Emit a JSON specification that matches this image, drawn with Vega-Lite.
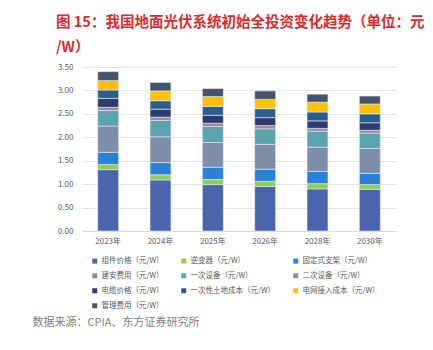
{
  "$schema": "https://vega.github.io/schema/vega-lite/v6.json",
  "autosize": "none",
  "width": 314,
  "height": 164,
  "padding": {"left": 82, "top": 67, "right": 37, "bottom": 119},
  "background": "white",
  "config": {
    "font": "Noto Sans CJK SC",
    "view": {"stroke": null}
  },
  "title": {
    "text": ["图 15：我国地面光伏系统初始全投资变化趋势（单位：元", "/W）"],
    "anchor": "start",
    "frame": "group",
    "orient": "top",
    "font": "Noto Sans CJK SC",
    "fontSize": 14.5,
    "fontWeight": "bold",
    "color": "#e02a2a",
    "lineHeight": 25,
    "baseline": "top",
    "offset": 0,
    "dx": -26,
    "dy": -8
  },
  "data": {
    "values": [
      {"year": "2023年", "item": "组件价格（元/W）", "o": 1, "v": 1.31},
      {"year": "2023年", "item": "逆变器（元/W）", "o": 2, "v": 0.11},
      {"year": "2023年", "item": "固定式支架（元/W）", "o": 3, "v": 0.26},
      {"year": "2023年", "item": "建安费用（元/W）", "o": 4, "v": 0.56},
      {"year": "2023年", "item": "一次设备（元/W）", "o": 5, "v": 0.33},
      {"year": "2023年", "item": "二次设备（元/W）", "o": 6, "v": 0.07},
      {"year": "2023年", "item": "电缆价格（元/W）", "o": 7, "v": 0.19},
      {"year": "2023年", "item": "一次性土地成本（元/W）", "o": 8, "v": 0.18},
      {"year": "2023年", "item": "电网接入成本（元/W）", "o": 9, "v": 0.2},
      {"year": "2023年", "item": "管理费用（元/W）", "o": 10, "v": 0.19},
      {"year": "2024年", "item": "组件价格（元/W）", "o": 1, "v": 1.09},
      {"year": "2024年", "item": "逆变器（元/W）", "o": 2, "v": 0.11},
      {"year": "2024年", "item": "固定式支架（元/W）", "o": 3, "v": 0.26},
      {"year": "2024年", "item": "建安费用（元/W）", "o": 4, "v": 0.55},
      {"year": "2024年", "item": "一次设备（元/W）", "o": 5, "v": 0.35},
      {"year": "2024年", "item": "二次设备（元/W）", "o": 6, "v": 0.07},
      {"year": "2024年", "item": "电缆价格（元/W）", "o": 7, "v": 0.17},
      {"year": "2024年", "item": "一次性土地成本（元/W）", "o": 8, "v": 0.18},
      {"year": "2024年", "item": "电网接入成本（元/W）", "o": 9, "v": 0.21},
      {"year": "2024年", "item": "管理费用（元/W）", "o": 10, "v": 0.18},
      {"year": "2025年", "item": "组件价格（元/W）", "o": 1, "v": 0.99},
      {"year": "2025年", "item": "逆变器（元/W）", "o": 2, "v": 0.11},
      {"year": "2025年", "item": "固定式支架（元/W）", "o": 3, "v": 0.26},
      {"year": "2025年", "item": "建安费用（元/W）", "o": 4, "v": 0.53},
      {"year": "2025年", "item": "一次设备（元/W）", "o": 5, "v": 0.34},
      {"year": "2025年", "item": "二次设备（元/W）", "o": 6, "v": 0.07},
      {"year": "2025年", "item": "电缆价格（元/W）", "o": 7, "v": 0.17},
      {"year": "2025年", "item": "一次性土地成本（元/W）", "o": 8, "v": 0.19},
      {"year": "2025年", "item": "电网接入成本（元/W）", "o": 9, "v": 0.21},
      {"year": "2025年", "item": "管理费用（元/W）", "o": 10, "v": 0.17},
      {"year": "2026年", "item": "组件价格（元/W）", "o": 1, "v": 0.95},
      {"year": "2026年", "item": "逆变器（元/W）", "o": 2, "v": 0.11},
      {"year": "2026年", "item": "固定式支架（元/W）", "o": 3, "v": 0.26},
      {"year": "2026年", "item": "建安费用（元/W）", "o": 4, "v": 0.53},
      {"year": "2026年", "item": "一次设备（元/W）", "o": 5, "v": 0.33},
      {"year": "2026年", "item": "二次设备（元/W）", "o": 6, "v": 0.07},
      {"year": "2026年", "item": "电缆价格（元/W）", "o": 7, "v": 0.17},
      {"year": "2026年", "item": "一次性土地成本（元/W）", "o": 8, "v": 0.19},
      {"year": "2026年", "item": "电网接入成本（元/W）", "o": 9, "v": 0.2},
      {"year": "2026年", "item": "管理费用（元/W）", "o": 10, "v": 0.18},
      {"year": "2028年", "item": "组件价格（元/W）", "o": 1, "v": 0.9},
      {"year": "2028年", "item": "逆变器（元/W）", "o": 2, "v": 0.11},
      {"year": "2028年", "item": "固定式支架（元/W）", "o": 3, "v": 0.26},
      {"year": "2028年", "item": "建安费用（元/W）", "o": 4, "v": 0.52},
      {"year": "2028年", "item": "一次设备（元/W）", "o": 5, "v": 0.34},
      {"year": "2028年", "item": "二次设备（元/W）", "o": 6, "v": 0.06},
      {"year": "2028年", "item": "电缆价格（元/W）", "o": 7, "v": 0.16},
      {"year": "2028年", "item": "一次性土地成本（元/W）", "o": 8, "v": 0.19},
      {"year": "2028年", "item": "电网接入成本（元/W）", "o": 9, "v": 0.21},
      {"year": "2028年", "item": "管理费用（元/W）", "o": 10, "v": 0.17},
      {"year": "2030年", "item": "组件价格（元/W）", "o": 1, "v": 0.89},
      {"year": "2030年", "item": "逆变器（元/W）", "o": 2, "v": 0.1},
      {"year": "2030年", "item": "固定式支架（元/W）", "o": 3, "v": 0.24},
      {"year": "2030年", "item": "建安费用（元/W）", "o": 4, "v": 0.53},
      {"year": "2030年", "item": "一次设备（元/W）", "o": 5, "v": 0.33},
      {"year": "2030年", "item": "二次设备（元/W）", "o": 6, "v": 0.06},
      {"year": "2030年", "item": "电缆价格（元/W）", "o": 7, "v": 0.16},
      {"year": "2030年", "item": "一次性土地成本（元/W）", "o": 8, "v": 0.19},
      {"year": "2030年", "item": "电网接入成本（元/W）", "o": 9, "v": 0.21},
      {"year": "2030年", "item": "管理费用（元/W）", "o": 10, "v": 0.17}
    ]
  },
  "mark": {"type": "bar", "stroke": "#e4eaf4", "strokeWidth": 0.6},
  "encoding": {
    "x": {
      "field": "year",
      "type": "nominal",
      "sort": null,
      "scale": {"paddingInner": 0.6, "paddingOuter": 0.3},
      "axis": {
        "labelAngle": 0,
        "labelFontSize": 8,
        "labelColor": "#595959",
        "labelPadding": 6,
        "ticks": false,
        "domainColor": "#d9d9d9",
        "title": "数据来源：CPIA、东方证券研究所",
        "titleX": -50,
        "titleY": 91,
        "titleAlign": "left",
        "titleBaseline": "middle",
        "titleAnchor": null,
        "titleFontSize": 11,
        "titleFontWeight": "normal",
        "titleColor": "#808080"
      }
    },
    "y": {
      "field": "v",
      "type": "quantitative",
      "stack": "zero",
      "scale": {"domain": [0, 3.5], "nice": false},
      "axis": {
        "values": [0, 0.5, 1, 1.5, 2, 2.5, 3, 3.5],
        "format": ".2f",
        "title": null,
        "domain": false,
        "ticks": false,
        "gridColor": "#e3e3e3",
        "labelFontSize": 8,
        "labelColor": "#595959",
        "labelPadding": 9
      }
    },
    "order": {"field": "o", "type": "quantitative", "sort": "ascending"},
    "color": {
      "field": "item",
      "type": "nominal",
      "sort": ["组件价格（元/W）", "逆变器（元/W）", "固定式支架（元/W）", "建安费用（元/W）", "一次设备（元/W）", "二次设备（元/W）", "电缆价格（元/W）", "一次性土地成本（元/W）", "电网接入成本（元/W）", "管理费用（元/W）"],
      "scale": {
        "domain": ["组件价格（元/W）", "逆变器（元/W）", "固定式支架（元/W）", "建安费用（元/W）", "一次设备（元/W）", "二次设备（元/W）", "电缆价格（元/W）", "一次性土地成本（元/W）", "电网接入成本（元/W）", "管理费用（元/W）"],
        "range": ["#4a65ad", "#8fcf50", "#2b80d8", "#7f8ea8", "#5ba3ae", "#9a8a9f", "#2c3c6c", "#2a5e8e", "#ffc000", "#45546c"]
      },
      "legend": {
        "orient": "none",
        "legendX": 9,
        "legendY": 190,
        "columns": 3,
        "direction": "horizontal",
        "title": null,
        "padding": 0,
        "symbolType": "square",
        "symbolSize": 25,
        "symbolStrokeWidth": 0,
        "labelFontSize": 7.5,
        "labelColor": "#595959",
        "labelOffset": 3,
        "rowPadding": 6,
        "columnPadding": 16,
        "labelLimit": 200
      }
    }
  }
}
